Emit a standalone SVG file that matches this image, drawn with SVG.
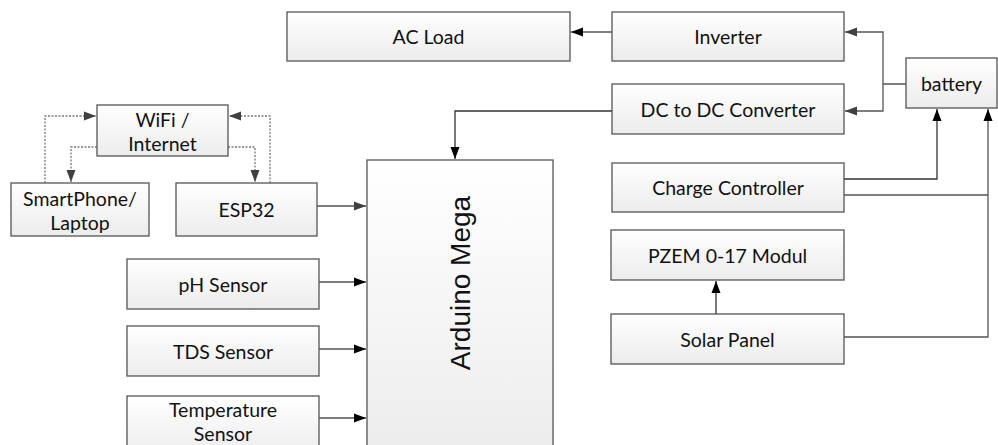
<svg xmlns="http://www.w3.org/2000/svg" width="998" height="445" viewBox="0 0 998 445">
<defs>
<linearGradient id="g" x1="0" y1="0" x2="0" y2="1">
<stop offset="0" stop-color="#ffffff"/>
<stop offset="1" stop-color="#ececec"/>
</linearGradient>
<marker id="a" markerUnits="userSpaceOnUse" markerWidth="13" markerHeight="10" refX="12" refY="5" orient="auto">
<path d="M0,0.5 L12,5 L0,9.5 Z" fill="#000"/>
</marker>
<marker id="ag" markerUnits="userSpaceOnUse" markerWidth="13" markerHeight="10" refX="12" refY="5" orient="auto">
<path d="M0,0.5 L12,5 L0,9.5 Z" fill="#404040"/>
</marker>
</defs>
<style>
.box{fill:url(#g);stroke:#555;stroke-width:1.3}
.t{font-family:Lato,"Liberation Sans",sans-serif;font-size:19.5px;fill:#111;text-anchor:middle;dominant-baseline:central}
.c{fill:none;stroke:#555;stroke-width:1.3}
.k{fill:none;stroke:#333;stroke-width:1.3}
.d{fill:none;stroke:#777;stroke-width:1.3;stroke-dasharray:2 1.5}
</style>
<g id="connectors">
<path class="c" d="M612,32 H571" marker-end="url(#a)"/>
<path class="c" d="M906,84 H883 V32 H845" marker-end="url(#ag)"/>
<path class="c" d="M883,84 V111 H845" marker-end="url(#ag)"/>
<path class="k" d="M612,111 H455 V159" marker-end="url(#a)"/>
<path class="k" d="M844,179 H937 V109" marker-end="url(#a)"/>
<path class="c" d="M844,195 H988"/>
<path class="c" d="M844,337 H988 V109" marker-end="url(#a)"/>
<path class="k" d="M716,314 V281" marker-end="url(#a)"/>
<path class="c" d="M317,206 H366" marker-end="url(#ag)"/>
<path class="c" d="M319,282 H366" marker-end="url(#a)"/>
<path class="c" d="M319,349 H366" marker-end="url(#a)"/>
<path class="c" d="M319,418 H366" marker-end="url(#a)"/>
<path class="d" d="M45,183 V116 H96" marker-end="url(#ag)"/>
<path class="d" d="M97,147 H71 V182" marker-end="url(#ag)"/>
<path class="d" d="M228,147 H255 V182" marker-end="url(#ag)"/>
<path class="d" d="M270,183 V116 H229" marker-end="url(#ag)"/>
</g>
<g id="ac-load"><rect class="box" x="287" y="12" width="283" height="49"/><text class="t" x="428.5" y="36.5">AC Load</text></g>
<g id="inverter"><rect class="box" x="612" y="12" width="232" height="49"/><text class="t" x="728" y="36.5">Inverter</text></g>
<g id="dc-dc"><rect class="box" x="612" y="84" width="232" height="50"/><text class="t" x="728" y="109">DC to DC Converter</text></g>
<g id="battery"><rect class="box" x="906" y="58" width="91" height="50"/><text class="t" x="951.5" y="83">battery</text></g>
<g id="charge-controller"><rect class="box" x="612" y="163" width="232" height="49"/><text class="t" x="728" y="187.5">Charge Controller</text></g>
<g id="pzem"><rect class="box" x="611" y="230" width="233" height="50"/><text class="t" x="727.5" y="255">PZEM 0-17 Modul</text></g>
<g id="solar-panel"><rect class="box" x="611" y="314" width="233" height="50"/><text class="t" x="727.5" y="339">Solar Panel</text></g>
<g id="wifi"><rect class="box" x="97" y="105" width="131" height="51"/><text class="t" x="162.5" y="119">WiFi /</text><text class="t" x="162.5" y="143">Internet</text></g>
<g id="smartphone"><rect class="box" x="11" y="183" width="138" height="53"/><text class="t" x="80" y="198">SmartPhone/</text><text class="t" x="80" y="222">Laptop</text></g>
<g id="esp32"><rect class="box" x="176" y="183" width="141" height="53"/><text class="t" x="246.5" y="209.5">ESP32</text></g>
<g id="arduino"><rect class="box" x="367" y="160" width="186" height="300"/><text class="t" x="460" y="283" transform="rotate(-90 460 283)" style="font-family:'Liberation Sans',Arial,sans-serif;font-size:28px">Arduino Mega</text></g>
<g id="ph"><rect class="box" x="127" y="259" width="192" height="50"/><text class="t" x="223" y="284">pH Sensor</text></g>
<g id="tds"><rect class="box" x="127" y="326" width="192" height="50"/><text class="t" x="223" y="351">TDS Sensor</text></g>
<g id="temp"><rect class="box" x="127" y="396" width="192" height="60"/><text class="t" x="223" y="409">Temperature</text><text class="t" x="223" y="433">Sensor</text></g>
</svg>
